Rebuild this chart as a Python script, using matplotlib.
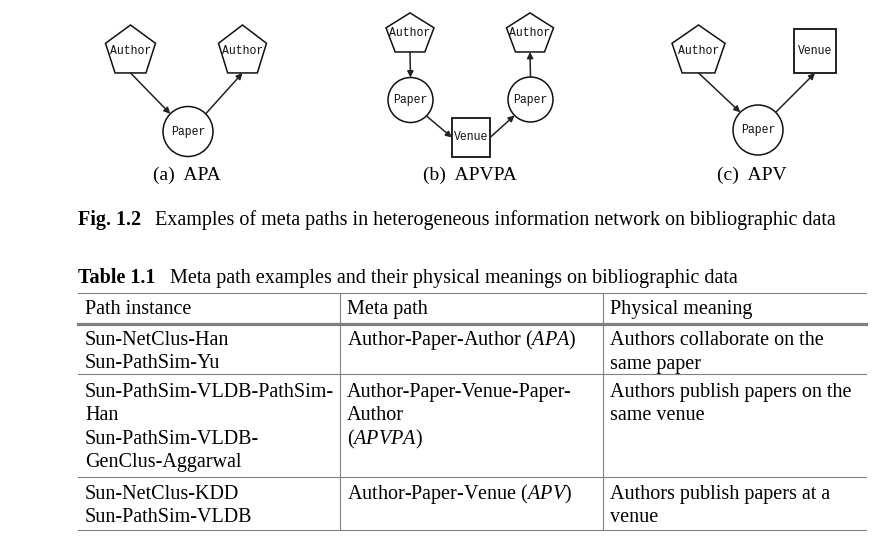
import numpy as np
import matplotlib.pyplot as plt
from matplotlib.patches import Polygon, Circle, Rectangle

plt.rcParams['font.family'] = ['Liberation Serif', 'DejaVu Serif']
plt.rcParams['mathtext.fontset'] = 'custom'
plt.rcParams['mathtext.rm'] = 'Liberation Serif'
plt.rcParams['mathtext.it'] = 'Liberation Serif:italic'

# meta path diagrams: node kinds and labels, edges between them
captions = ["(a)  APA", "(b)  APVPA", "(c)  APV"]
nodes = [
    [("pent", "Author"), ("pent", "Author"), ("circ", "Paper")],
    [("pent", "Author"), ("pent", "Author"), ("circ", "Paper"),
     ("circ", "Paper"), ("box", "Venue")],
    [("pent", "Author"), ("box", "Venue"), ("circ", "Paper")],
]
# edges: (from node, port, to node, port)
edges = [
    [(0, 'b', 2, 'ul'), (2, 'ur', 1, 'b')],
    [(0, 'b', 2, 't'), (2, 'dr', 4, 'l'), (4, 'r', 3, 'dl'), (3, 't', 1, 'b')],
    [(0, 'b', 2, 'ul'), (2, 'ur', 1, 'b')],
]
# layout of nodes in pixels: centre x, centre y, half width, half height
layout = [
    [(130.5, 51.5, 25, 26.5), (242.5, 51.5, 24, 26.5), (188, 131.5, 25, 25)],
    [(410, 34.5, 24, 21.6), (530, 34.5, 23.5, 21.6), (410.5, 100, 22.5, 22.5),
     (530.5, 99.5, 22.5, 22.5), (471, 137.5, 19, 19.5)],
    [(698.5, 51.5, 26.5, 26.5), (815, 51, 21, 22), (758, 130, 25, 25)],
]
caption_x = [187, 470, 752]

fig_caption_bold = "Fig. 1.2"
fig_caption = "Examples of meta paths in heterogeneous information network on bibliographic data"
table_title_bold = "Table 1.1"
table_title = "Meta path examples and their physical meanings on bibliographic data"

headers = ["Path instance", "Meta path", "Physical meaning"]
col1 = [["Sun-NetClus-Han", "Sun-PathSim-Yu"],
        ["Sun-PathSim-VLDB-PathSim-", "Han", "Sun-PathSim-VLDB-", "GenClus-Aggarwal"],
        ["Sun-NetClus-KDD", "Sun-PathSim-VLDB"]]
col2 = [[r"Author-Paper-Author ($APA$)"],
        ["Author-Paper-Venue-Paper-", "Author", r"($APVPA$)"],
        [r"Author-Paper-Venue ($APV$)"]]
col3 = [["Authors collaborate on the", "same paper"],
        ["Authors publish papers on the", "same venue"],
        ["Authors publish papers at a", "venue"]]

fig = plt.figure(figsize=(8.95, 5.52), dpi=100)
ax = fig.add_axes([0, 0, 1, 1])
ax.set_xlim(0, 895)
ax.set_ylim(552, 0)
ax.axis('off')

c45 = np.cos(np.pi / 4)


def port(kind, geom, side):
    x, y, w, h = geom
    if kind == "circ":
        dirs = {'t': (0, -1), 'b': (0, 1), 'l': (-1, 0), 'r': (1, 0),
                'ul': (-c45, -c45), 'ur': (c45, -c45), 'dl': (-c45, c45), 'dr': (c45, c45)}
        dx, dy = dirs[side]
        return (x + w * dx, y + h * dy)
    if kind == "pent":
        if side == 'b':
            return (x, y + h * np.cos(np.pi / 5))
        return (x, y - h)
    dirs = {'t': (0, -1), 'b': (0, 1), 'l': (-1, 0), 'r': (1, 0)}
    dx, dy = dirs[side]
    return (x + w * dx, y + h * dy)


for k in range(3):
    for (kind, label), geom in zip(nodes[k], layout[k]):
        x, y, w, h = geom
        if kind == "pent":
            ang = -np.pi / 2 + np.arange(5) * 2 * np.pi / 5
            rx = w / np.sin(2 * np.pi / 5)
            pts = np.column_stack([x + rx * np.cos(ang), y + h * np.sin(ang)])
            p = Polygon(pts, closed=True, fill=False, lw=1.1, ec='#111111')
            ty = y - 1
        elif kind == "circ":
            p = Circle((x, y), w, fill=False, lw=1.1, ec='#111111')
            ty = y
        else:
            p = Rectangle((x - w, y - h), 2 * w, 2 * h, fill=False, lw=1.3, ec='#111111')
            ty = y
        ax.add_patch(p)
        ax.text(x, ty, label, ha='center', va='center', fontsize=8.3,
                family='Liberation Mono', color='#111111')
    for a, pa, b, pb in edges[k]:
        start = port(nodes[k][a][0], layout[k][a], pa)
        end = port(nodes[k][b][0], layout[k][b], pb)
        ax.annotate("", xy=end, xytext=start,
                    arrowprops=dict(arrowstyle='-|>', lw=1.1, color='#222222',
                                    mutation_scale=9, shrinkA=0, shrinkB=0))
    ax.text(caption_x[k], 175, captions[k], ha='center', va='center', fontsize=14)

# figure caption
ax.text(78, 220, fig_caption_bold, ha='left', va='center', fontsize=14.5, weight='bold')
ax.text(155, 220, fig_caption, ha='left', va='center', fontsize=14.5)

# table title
ax.text(78, 278, table_title_bold, ha='left', va='center', fontsize=14.5, weight='bold')
ax.text(170, 278, table_title, ha='left', va='center', fontsize=14.5)

# table rules
x0, x1 = 78, 866
cols = [78, 340, 603]
top, head, rows_y, bottom = 293, 324, [374, 477], 530
ax.plot([x0, x1], [top, top], color='#808080', lw=0.8)
ax.plot([x0, x1], [head, head], color='#808080', lw=2.3)
for ry in rows_y:
    ax.plot([x0, x1], [ry, ry], color='#808080', lw=0.8)
ax.plot([x0, x1], [bottom, bottom], color='#808080', lw=0.8)
for cx in cols[1:]:
    ax.plot([cx, cx], [top, bottom], color='#808080', lw=0.8)

# table text (baseline aligned)
fs = 14.5
for j, h in enumerate(headers):
    ax.text(cols[j] + 7, 314, h, ha='left', va='baseline', fontsize=fs)
row_base = [345, 397, 499]
line_h = 23.5
for i in range(3):
    for j, col in enumerate([col1, col2, col3]):
        for n, line in enumerate(col[i]):
            ax.text(cols[j] + 7, row_base[i] + n * line_h, line, ha='left',
                    va='baseline', fontsize=fs)

fig.savefig("out.png", dpi=100)
